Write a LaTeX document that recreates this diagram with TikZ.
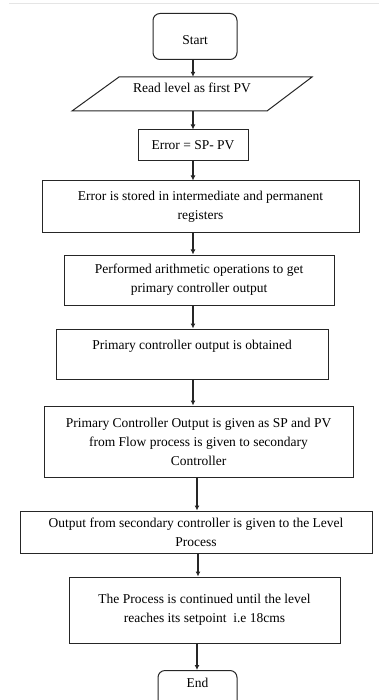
\documentclass[tikz,border=0pt]{standalone}
\usepackage{fontspec}
\setmainfont{Liberation Serif}
\usetikzlibrary{arrows.meta,calc}
\begin{document}
\begin{tikzpicture}[x=1pt,y=1pt,
  font=\fontsize{13.5}{19}\selectfont,
  box/.style={draw=black!85, line width=1pt, align=center, inner sep=0pt},
  term/.style={draw=black!85, line width=1pt, rounded corners=7pt, inner xsep=0pt},
  arr/.style={draw=black!85, line width=1.3pt, -{Latex[length=5pt,width=5pt]}},
]
\useasboundingbox (0,0) rectangle (379,-700);
\draw[black!10, line width=1pt] (9,-4) -- (379,-4);
\coordinate (xa) at (193,0);
\coordinate (xb) at (197,0);
\coordinate (xc) at (198,0);

\node[term, minimum width=84, anchor=north, text height=25pt, text depth=9pt, inner ysep=6pt] (start) at (195,-13) {Start};
\node[inner sep=0pt, minimum width=193, minimum height=34] (read) at (192,-94) {\raisebox{1.5pt}[0pt][0pt]{Read level as first PV}};
\draw[black!85, line width=1pt] (119,-77) -- (312,-77) -- (267,-111) -- (72,-111) -- cycle;
\node[box, minimum width=110, minimum height=31] (err) at (193,-145.5) {Error = SP- PV};
\node[box, minimum width=317, minimum height=52] (store) at (200.5,-207) {Error is stored in intermediate and permanent\\registers};
\node[box, minimum width=270, minimum height=50] (arith) at (199,-280) {Performed arithmetic operations to get\\primary controller output};
\node[box, minimum width=272, minimum height=50] (obt) at (192,-354) {Primary controller output is obtained\\\mbox{}};
\node[box, minimum width=309, minimum height=71] (sp) at (198.5,-441.5) {Primary Controller Output is given as SP and PV\\from Flow process is given to secondary\\Controller};
\node[box, minimum width=352, minimum height=42] (out) at (196,-532) {Output from secondary controller is given to the Level\\Process};
\node[box, minimum width=271, minimum height=66] (cont) at (204.5,-610) {The Process is continued until the level\\reaches its setpoint\ \ i.e 18cms};
\node[term, minimum width=79, anchor=north, text height=9pt, text depth=20pt, inner ysep=8pt] (end) at (197.5,-670) {End};

\draw[arr] (start.south -| xa) -- (read.north -| xa);
\draw[arr] (read.south -| xa) -- (err.north -| xa);
\draw[arr] (err.south -| xa) -- (store.north -| xa);
\draw[arr] (store.south -| xa) -- (arith.north -| xa);
\draw[arr] (arith.south -| xa) -- (obt.north -| xa);
\draw[arr] (obt.south -| xa) -- (sp.north -| xa);
\draw[arr] (sp.south -| xb) -- (out.north -| xb);
\draw[arr] (out.south -| xc) -- (cont.north -| xc);
\draw[arr] (cont.south -| xb) -- (end.north -| xb);
\end{tikzpicture}
\end{document}
